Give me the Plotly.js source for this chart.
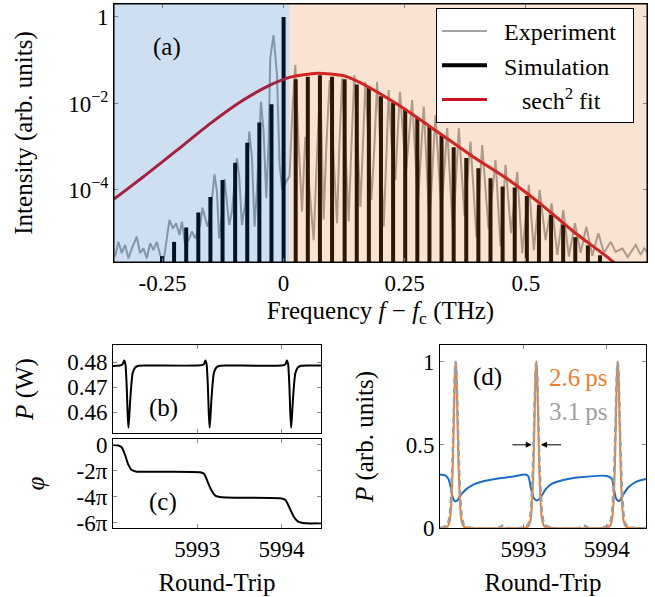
<!DOCTYPE html>
<html>
<head>
<meta charset="utf-8">
<script src="https://cdn.plot.ly/plotly-3.0.1.min.js"></script>
<style>html,body{margin:0;padding:0;background:#fff;}#chart{width:655px;height:597px;}</style>
</head>
<body>
<div id="chart"></div>
<script>
// ---------------- Panel (a): spectrum ----------------
// Experiment (OSA trace): frequency (THz) and log10 intensity
const expF = [-0.3477,-0.3409,-0.3339,-0.3271,-0.3202,-0.3132,-0.3029,-0.2961,-0.2893,-0.2822,-0.2754,-0.2686,-0.2616,-0.2548,-0.2479,-0.2409,-0.2355,-0.2285,-0.2217,-0.2149,-0.2099,-0.2031,-0.1963,-0.1893,-0.1824,-0.1721,-0.1674,-0.1618,-0.1570,-0.1514,-0.1426,-0.1376,-0.1329,-0.1287,-0.1219,-0.1169,-0.1122,-0.1066,-0.0963,-0.0915,-0.0860,-0.0791,-0.0709,-0.0653,-0.0599,-0.0550,-0.0467,-0.0413,-0.0357,-0.0310,-0.0275,-0.0207,-0.0136,-0.0083,-0.0027,0.0070,0.0124,0.0180,0.0242,0.0304,0.0380,0.0448,0.0531,0.0620,0.0696,0.0758,0.0826,0.0882,0.0950,0.1027,0.1103,0.1151,0.1207,0.1275,0.1343,0.1399,0.1461,0.1523,0.1585,0.1636,0.1688,0.1750,0.1812,0.1874,0.1930,0.1998,0.2066,0.2122,0.2169,0.2225,0.2308,0.2349,0.2401,0.2525,0.2653,0.2773,0.2893,0.3010,0.3134,0.3258,0.3376,0.3496,0.3616,0.3734,0.3857,0.3981,0.4099,0.4229,0.4374,0.4477,0.4581,0.4694,0.4822,0.4926,0.5062,0.5165,0.5283,0.5407,0.5531,0.5649,0.5773,0.5888,0.6012,0.6130,0.6248,0.6372,0.6496,0.6612,0.6750,0.6853,0.6992,0.7101,0.7267,0.7370,0.7442,0.7515];
const expLogI = [-5.54,-5.20,-5.46,-5.27,-5.58,-5.35,-5.08,-5.46,-5.35,-5.58,-5.23,-5.39,-5.20,-5.50,-5.66,-5.08,-4.69,-4.89,-4.77,-5.04,-4.73,-5.27,-5.16,-4.96,-5.12,-4.81,-4.41,-4.65,-4.85,-4.60,-3.64,-4.04,-5.12,-4.70,-3.75,-4.30,-4.81,-4.50,-3.27,-3.70,-4.81,-4.30,-2.65,-3.25,-4.85,-4.00,-1.96,-2.65,-4.19,-2.90,-0.95,-0.42,-1.34,-3.42,-4.00,-3.77,-3.69,-2.20,-1.11,-2.80,-4.50,-2.77,-4.00,-5.16,-3.00,-1.50,-4.69,-3.00,-1.46,-3.00,-4.77,-3.00,-1.42,-3.00,-4.73,-3.00,-1.34,-2.80,-4.39,-3.00,-1.50,-2.80,-4.23,-3.00,-1.50,-3.00,-4.85,-3.20,-1.69,-2.90,-3.77,-2.80,-1.73,-3.60,-1.92,-4.30,-2.07,-4.80,-2.27,-4.50,-2.57,-5.00,-2.57,-4.60,-2.88,-5.10,-2.96,-4.90,-3.31,-5.30,-3.42,-5.00,-3.58,-5.46,-3.88,-5.39,-4.00,-5.16,-4.31,-5.50,-4.46,-5.54,-4.77,-5.45,-4.85,-5.52,-5.00,-5.45,-5.20,-5.43,-5.35,-5.55,-5.27,-5.50,-5.35,-5.45];

// Simulation comb lines: frequency (THz) and log10 intensity
const simF = [-0.251,-0.226,-0.201,-0.176,-0.151,-0.126,-0.100,-0.075,-0.050,-0.025,0,0.025,0.050,0.075,0.100,0.126,0.151,0.176,0.201,0.226,0.251,0.276,0.301,0.326,0.351,0.377,0.402,0.427,0.452,0.477,0.502,0.527,0.552,0.577,0.602,0.628,0.653,0.678];
const simLogI = [-5.53,-5.20,-4.87,-4.52,-4.16,-3.77,-3.37,-2.91,-2.44,-2.02,0,-1.44,-1.38,-1.35,-1.38,-1.44,-1.56,-1.63,-1.83,-1.98,-2.14,-2.33,-2.53,-2.74,-3.01,-3.26,-3.50,-3.73,-3.92,-3.94,-4.14,-4.35,-4.58,-4.80,-5.09,-5.28,-5.51,-5.67];

// sech^2 fit, points
const fitF = [-0.35,-0.289,-0.220,-0.151,-0.083,-0.027,0.014,0.069,0.124,0.155,0.186,0.253,0.322,0.391,0.460,0.529,0.598,0.667,0.700];
const fitLogI = [-4.21,-3.69,-3.08,-2.46,-1.92,-1.57,-1.39,-1.30,-1.36,-1.50,-1.69,-2.15,-2.69,-3.23,-3.73,-4.31,-4.96,-5.54,-5.85];

const freqTickVals = [-0.25, 0, 0.25, 0.5];
const freqTickText = ['-0.25', '0', '0.25', '0.5'];
const intTickVals = [1, 0.01, 0.0001];
const intTickText = ['1', '10<sup>−2</sup>', '10<sup>−4</sup>'];
const regionEdges = [-0.35, 0.012, 0.75]; // shaded regions: blue below f_c, orange above

// ---------------- Panel (b): power ----------------
const rtB = [5992.00,5992.08,5992.11,5992.133,5992.148,5992.163,5992.173,5992.183,5992.193,5992.203,5992.218,5992.233,5992.263,5992.303,5992.383,5993.00,5993.077,5993.097,5993.112,5993.127,5993.137,5993.147,5993.157,5993.167,5993.182,5993.197,5993.227,5993.267,5993.347,5994.00,5994.045,5994.065,5994.080,5994.095,5994.105,5994.115,5994.125,5994.135,5994.150,5994.165,5994.195,5994.235,5994.315,5994.47];
const powB = [0.4784,0.4786,0.4790,0.4806,0.4790,0.4700,0.4600,0.4537,0.4580,0.4640,0.4710,0.4755,0.4778,0.4785,0.4786,0.4786,0.4790,0.4806,0.4790,0.4700,0.4600,0.4537,0.4580,0.4640,0.4710,0.4755,0.4778,0.4785,0.4786,0.4786,0.4790,0.4806,0.4790,0.4700,0.4600,0.4537,0.4580,0.4640,0.4710,0.4755,0.4778,0.4785,0.4786,0.4786];
const powTickVals = [0.46, 0.47, 0.48];

// ---------------- Panel (c): phase (in units of pi) ----------------
const rtC = [5992.0,5992.063,5992.103,5992.143,5992.183,5992.222,5992.282,5992.5,5993.036,5993.083,5993.123,5993.163,5993.214,5993.294,5993.5,5993.988,5994.048,5994.099,5994.147,5994.199,5994.286,5994.47];
const phiOverPi = [0,-0.04,-0.18,-0.77,-1.54,-1.93,-2.06,-2.07,-2.11,-2.24,-2.83,-3.42,-3.91,-4.04,-4.07,-4.12,-4.25,-4.89,-5.54,-5.92,-6.05,-6.05];
const phiTickVals = [0, -2, -4, -6];
const phiTickText = ['0', '-2π', '-4π', '-6π'];

// ---------------- Panel (d): pulses ----------------
const rtBlue = [5992.0,5992.06,5992.10,5992.128,5992.152,5992.18,5992.208,5992.232,5992.26,5992.32,5992.40,5992.52,5992.68,5992.88,5993.02,5993.06,5993.088,5993.12,5993.16,5993.19,5993.22,5993.27,5993.34,5993.48,5993.68,5994.00,5994.06,5994.086,5994.11,5994.143,5994.17,5994.198,5994.258,5994.358,5994.47];
const powBlue = [0.322,0.316,0.296,0.245,0.185,0.161,0.165,0.185,0.205,0.235,0.261,0.281,0.296,0.310,0.322,0.310,0.245,0.185,0.165,0.175,0.195,0.235,0.265,0.289,0.305,0.313,0.296,0.235,0.179,0.161,0.175,0.201,0.245,0.279,0.294];

const rtOrange = [5992.0,5992.088,5992.118,5992.138,5992.153,5992.163,5992.173,5992.181,5992.188,5992.195,5992.203,5992.213,5992.223,5992.238,5992.258,5992.288,5992.388,
  5992.955,5993.055,5993.085,5993.105,5993.120,5993.130,5993.140,5993.148,5993.155,5993.162,5993.170,5993.180,5993.190,5993.205,5993.225,5993.255,5993.355,
  5993.931,5994.031,5994.061,5994.081,5994.096,5994.106,5994.116,5994.124,5994.131,5994.138,5994.146,5994.156,5994.166,5994.181,5994.201,5994.231,5994.331,5994.47];
const powOrange = [0,0.0075,0.045,0.16,0.36,0.575,0.81,0.953,1,0.953,0.81,0.575,0.36,0.16,0.045,0.0075,0,
  0,0.0075,0.045,0.16,0.36,0.575,0.81,0.953,1,0.953,0.81,0.575,0.36,0.16,0.045,0.0075,0,
  0,0.0075,0.045,0.16,0.36,0.575,0.81,0.953,1,0.953,0.81,0.575,0.36,0.16,0.045,0.0075,0,0];

const rtGrey = [5992.0,5992.088,5992.118,5992.138,5992.153,5992.163,5992.173,5992.181,5992.188,5992.195,5992.203,5992.213,5992.223,5992.238,5992.258,5992.288,5992.388,
  5992.70,5992.74,5992.76,5992.78,5992.82,
  5992.955,5993.055,5993.085,5993.105,5993.120,5993.130,5993.140,5993.148,5993.155,5993.162,5993.170,5993.180,5993.190,5993.205,5993.225,5993.255,5993.355,
  5993.66,5993.70,5993.72,5993.74,5993.78,
  5993.931,5994.031,5994.061,5994.081,5994.096,5994.106,5994.116,5994.124,5994.131,5994.138,5994.146,5994.156,5994.166,5994.181,5994.201,5994.231,5994.331,5994.47];
const powGrey = [0,0.019,0.085,0.25,0.46,0.66,0.86,0.966,1,0.966,0.86,0.66,0.46,0.25,0.085,0.019,0,
  0,0.012,0.016,0.012,0,
  0,0.019,0.085,0.25,0.46,0.66,0.86,0.966,1,0.966,0.86,0.66,0.46,0.25,0.085,0.019,0,
  0,0.012,0.016,0.012,0,
  0,0.019,0.085,0.25,0.46,0.66,0.86,0.966,1,0.966,0.86,0.66,0.46,0.25,0.085,0.019,0,0];

const rtTickVals = [5993, 5994];
const dTickVals = [0, 0.5, 1];
const dTickText = ['0', '0.5', '1'];

// ---------------- build ----------------
const FONT = '"Liberation Serif", "Times New Roman", serif';
const TICK = 23, LAB = 25;
const NB = '\u00a0';
const toLin = v => Math.pow(10, v);

const combX = [], combY = [];
simF.forEach((f, i) => { combX.push(f, f, null); combY.push(1e-8, toLin(simLogI[i]), null); });

const traces = [
  {x: expF, y: expLogI.map(toLin), xaxis: 'x', yaxis: 'y', mode: 'lines', name: NB + NB + 'Experiment',
   line: {color: '#a3a3a3', width: 2}, legendgroup: 'a'},
  {x: combX, y: combY, xaxis: 'x', yaxis: 'y', mode: 'lines', name: NB + NB + 'Simulation' + NB + NB + NB,
   line: {color: '#000000', width: 4}, legendgroup: 'b'},
  {x: fitF, y: fitLogI.map(toLin), xaxis: 'x', yaxis: 'y', mode: 'lines', name: NB + NB + NB + NB + NB + 'sech<sup>2</sup> fit',
   line: {color: '#cc1122', width: 3, shape: 'spline', smoothing: 0.6}, legendgroup: 'c'},
  {x: rtB, y: powB, xaxis: 'x2', yaxis: 'y2', mode: 'lines', showlegend: false,
   line: {color: '#000', width: 2, shape: 'spline', smoothing: 0.5}},
  {x: rtC, y: phiOverPi, xaxis: 'x3', yaxis: 'y3', mode: 'lines', showlegend: false,
   line: {color: '#000', width: 2, shape: 'spline', smoothing: 0.6}},
  {x: rtBlue, y: powBlue, xaxis: 'x4', yaxis: 'y4', mode: 'lines', showlegend: false,
   line: {color: '#1a6cc4', width: 2, shape: 'spline', smoothing: 0.6}},
  {x: rtOrange, y: powOrange, xaxis: 'x4', yaxis: 'y4', mode: 'lines', showlegend: false,
   line: {color: '#f07d2e', width: 2, shape: 'spline', smoothing: 0.6}},
  {x: rtGrey, y: powGrey, xaxis: 'x4', yaxis: 'y4', mode: 'lines', showlegend: false,
   line: {color: '#a0a0a0', width: 2.5, dash: '6px,4px', shape: 'spline', smoothing: 0.6}}
];

const W = 655, H = 597;
const px = v => v / W, py = v => 1 - v / H;

const tickFont = {family: FONT, size: TICK, color: '#000'};
const labFont = {family: FONT, size: LAB, color: '#000'};
const axBase = {showgrid: false, zeroline: false, showline: true, linecolor: '#000', linewidth: 1,
  mirror: 'ticks', ticks: 'inside', ticklen: 4, tickcolor: '#8a8a8a', tickwidth: 1,
  tickfont: tickFont, automargin: false, tickmode: 'array'};

const note = (text, x, y, color) => ({text: text, xref: 'paper', yref: 'paper', x: px(x), y: py(y),
  xanchor: 'center', yanchor: 'middle', showarrow: false,
  font: {family: FONT, size: LAB, color: color || '#000'}});

const layout = {
  width: W, height: H,
  margin: {l: 0, r: 0, t: 0, b: 0},
  paper_bgcolor: '#fff', plot_bgcolor: '#fff',
  font: {family: FONT, size: LAB, color: '#000'},
  showlegend: true,
  legend: {x: px(436), y: py(8), xanchor: 'left', yanchor: 'top', bgcolor: '#fff',
    bordercolor: '#000', borderwidth: 1, font: {family: FONT, size: 24, color: '#000'},
    itemwidth: 45, traceorder: 'grouped', tracegroupgap: 0},
  xaxis: Object.assign({}, axBase, {domain: [px(114), px(647)], range: [-0.35, 0.75], anchor: 'y',
    tickvals: freqTickVals, ticktext: freqTickText,
    title: {text: 'Frequency <i>f</i> − <i>f</i><sub>c</sub> (THz)', font: labFont, standoff: 6}}),
  yaxis: Object.assign({}, axBase, {domain: [py(262), py(4)], type: 'log', range: [-5.665, 0.30], anchor: 'x',
    tickvals: intTickVals, ticktext: intTickText,
    title: {text: 'Intensity (arb. units)', font: labFont, standoff: 28}}),
  xaxis2: Object.assign({}, axBase, {domain: [px(113), px(321)], range: [5992.0, 5994.47], anchor: 'y2',
    tickvals: rtTickVals, showticklabels: false}),
  yaxis2: Object.assign({}, axBase, {domain: [py(433), py(345)], range: [0.4516, 0.4868], anchor: 'x2',
    tickvals: powTickVals, ticktext: ['0.46', '0.47', '0.48'],
    title: {text: '<i>P</i> (W)', font: labFont, standoff: 26}}),
  xaxis3: Object.assign({}, axBase, {domain: [px(113), px(321)], range: [5992.0, 5994.47], anchor: 'y3',
    tickvals: rtTickVals, ticktext: ['5993', '5994'],
    title: {text: 'Round-Trip', font: labFont, standoff: 12}}),
  yaxis3: Object.assign({}, axBase, {domain: [py(528), py(439)], range: [-6.41, 0.46], anchor: 'x3',
    tickvals: phiTickVals, ticktext: phiTickText,
    title: {text: '<i>φ</i>', font: labFont, standoff: 24}}),
  xaxis4: Object.assign({}, axBase, {domain: [px(440), px(646)], range: [5992.0, 5994.47], anchor: 'y4',
    tickvals: rtTickVals, ticktext: ['5993', '5994'],
    title: {text: 'Round-Trip', font: labFont, standoff: 12}}),
  yaxis4: Object.assign({}, axBase, {domain: [py(528), py(345)], range: [0, 1.1], anchor: 'x4',
    tickvals: dTickVals, ticktext: dTickText,
    title: {text: '<i>P</i> (arb. units)', font: labFont, standoff: 24}}),
  shapes: [
    {type: 'rect', xref: 'x', yref: 'y domain', x0: regionEdges[0], x1: regionEdges[1], y0: 0, y1: 1,
     fillcolor: 'rgb(5,95,180)', opacity: 0.2, line: {width: 0}, layer: 'above'},
    {type: 'rect', xref: 'x', yref: 'y domain', x0: regionEdges[1], x1: regionEdges[2], y0: 0, y1: 1,
     fillcolor: 'rgb(225,120,40)', opacity: 0.2, line: {width: 0}, layer: 'above'},
    {type: 'rect', xref: 'x domain', yref: 'y domain', x0: 0, x1: 1, y0: 0, y1: 1,
     fillcolor: 'rgba(0,0,0,0)', line: {color: '#000', width: 1}, layer: 'above'}
  ],
  annotations: [
    note('(a)', 167, 47),
    note('(b)', 163, 408),
    note('(c)', 163, 502),
    note('(d)', 487, 377),
    note('2.6\u2009ps', 578, 377, '#f07d2e'),
    note('3.1\u2009ps', 578, 411, '#a0a0a0'),
    {text: '', xref: 'x4', yref: 'y4', x: 5993.10, y: 0.5, ax: 5992.85, ay: 0.5, axref: 'x4', ayref: 'y4',
     showarrow: true, arrowhead: 2, arrowsize: 1.2, arrowwidth: 1, arrowcolor: '#000'},
    {text: '', xref: 'x4', yref: 'y4', x: 5993.21, y: 0.5, ax: 5993.47, ay: 0.5, axref: 'x4', ayref: 'y4',
     showarrow: true, arrowhead: 2, arrowsize: 1.2, arrowwidth: 1, arrowcolor: '#000'}
  ]
};

Plotly.newPlot('chart', traces, layout, {displayModeBar: false, staticPlot: true});
</script>
</body>
</html>
